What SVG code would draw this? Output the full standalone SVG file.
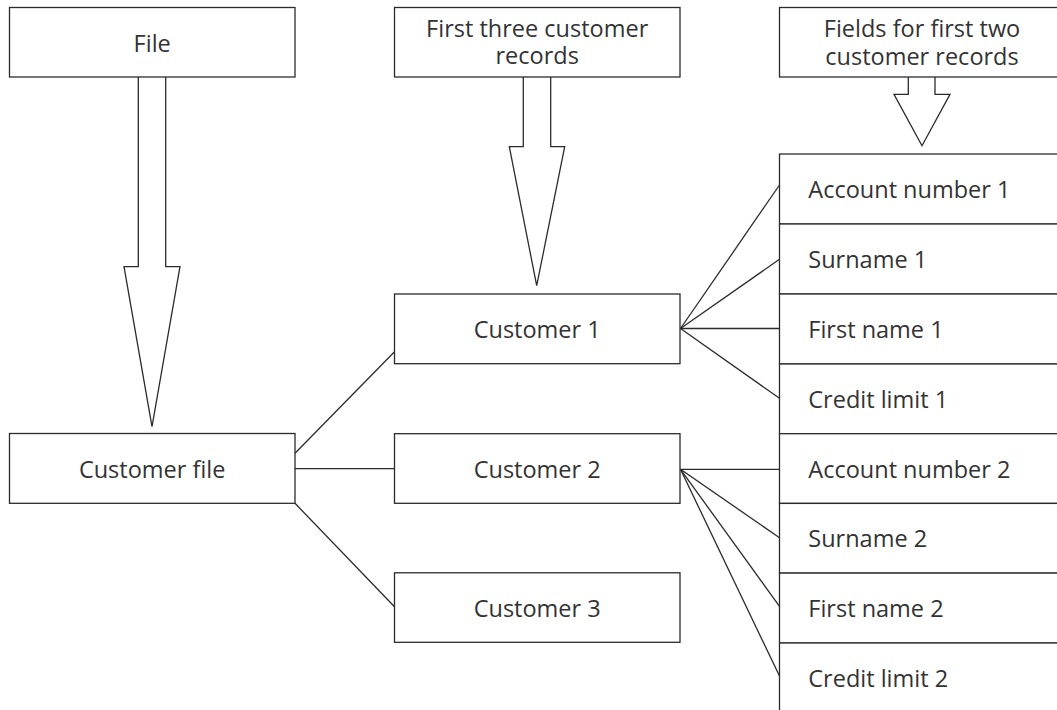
<svg xmlns="http://www.w3.org/2000/svg" width="1057" height="710" viewBox="0 0 1057 710">
<style>
.box{fill:#fff;stroke:#2b2b2b;stroke-width:1.3}
.arr{fill:#fff;stroke:#2b2b2b;stroke-width:1.3;stroke-linejoin:miter}
.ln{stroke:#2b2b2b;stroke-width:1.3;fill:none}
.t{font-family:"Open Sans","Noto Sans","DejaVu Sans",sans-serif;font-size:23.5px;fill:#333}
.c{text-anchor:middle}
</style>
<rect width="1057" height="710" fill="#fff"/>
<g id="connectors">
<line class="ln" x1="295" y1="453.3" x2="394.5" y2="351.7"/>
<line class="ln" x1="295" y1="468.7" x2="394.5" y2="468.7"/>
<line class="ln" x1="295" y1="503.3" x2="394.5" y2="606.7"/>
<line class="ln" x1="680.5" y1="328.5" x2="779.5" y2="185"/>
<line class="ln" x1="680.5" y1="328.5" x2="779.5" y2="259.3"/>
<line class="ln" x1="680.5" y1="328.5" x2="779.5" y2="328.5"/>
<line class="ln" x1="680.5" y1="328.5" x2="779.5" y2="398.3"/>
<line class="ln" x1="680.5" y1="469.3" x2="779.5" y2="469.3"/>
<line class="ln" x1="680.5" y1="469.3" x2="779.5" y2="537.7"/>
<line class="ln" x1="680.5" y1="469.3" x2="779.5" y2="606.3"/>
<line class="ln" x1="680.5" y1="469.3" x2="779.5" y2="676"/>
</g>
<g id="arrow-file">
<path class="arr" d="M138.3,77 V266.7 H124 L152,426.7 L180,266.7 H165.7 V77"/>
</g>
<g id="arrow-records">
<path class="arr" d="M523.3,77 V146.7 H509.3 L536.7,285.7 L564.7,146.7 H550.7 V77"/>
</g>
<g id="arrow-fields">
<path class="arr" d="M908.3,77 V94.3 H894 L922,145.7 L950,94.3 H935 V77"/>
</g>
<g id="file">
<rect class="box" x="9.5" y="7.5" width="285.5" height="69.5"/>
<text class="t c" x="152.2" y="51.5">File</text>
</g>
<g id="first-three">
<rect class="box" x="394.5" y="7.5" width="285.5" height="69.5"/>
<text class="t c" x="537.2" y="36.7">First three customer</text>
<text class="t c" x="537.2" y="64.3">records</text>
</g>
<g id="fields-for">
<rect class="box" x="779.5" y="7.5" width="285.5" height="69.5"/>
<text class="t c" x="922" y="36.7">Fields for first two</text>
<text class="t c" x="922" y="64.8">customer records</text>
</g>
<g id="customer-file">
<rect class="box" x="9.5" y="433.5" width="285.5" height="69.8"/>
<text class="t c" x="152.2" y="477.5">Customer file</text>
</g>
<g id="customer1">
<rect class="box" x="394.5" y="294" width="285.5" height="69.7"/>
<text class="t c" x="537.2" y="338.3">Customer 1</text>
</g>
<g id="customer2">
<rect class="box" x="394.5" y="433.7" width="285.5" height="69.6"/>
<text class="t c" x="537.2" y="477.8">Customer 2</text>
</g>
<g id="customer3">
<rect class="box" x="394.5" y="572.8" width="285.5" height="69.5"/>
<text class="t c" x="537.2" y="616.8">Customer 3</text>
</g>
<g id="field-account1">
<rect class="box" x="779.5" y="154" width="290" height="70"/>
<text class="t" x="808.3" y="198.3">Account number 1</text>
</g>
<g id="field-surname1">
<rect class="box" x="779.5" y="224" width="290" height="70"/>
<text class="t" x="808.3" y="268">Surname 1</text>
</g>
<g id="field-firstname1">
<rect class="box" x="779.5" y="294" width="290" height="70"/>
<text class="t" x="808.3" y="338">First name 1</text>
</g>
<g id="field-credit1">
<rect class="box" x="779.5" y="364" width="290" height="70"/>
<text class="t" x="808.3" y="408">Credit limit 1</text>
</g>
<g id="field-account2">
<rect class="box" x="779.5" y="433.7" width="290" height="69.7"/>
<text class="t" x="808.3" y="477.5">Account number 2</text>
</g>
<g id="field-surname2">
<rect class="box" x="779.5" y="503.4" width="290" height="69.7"/>
<text class="t" x="808.3" y="547">Surname 2</text>
</g>
<g id="field-firstname2">
<rect class="box" x="779.5" y="573.1" width="290" height="69.9"/>
<text class="t" x="808.3" y="617">First name 2</text>
</g>
<g id="field-credit2">
<rect class="box" x="779.5" y="643" width="290" height="80"/>
<text class="t" x="808.3" y="687">Credit limit 2</text>
</g>
</svg>
